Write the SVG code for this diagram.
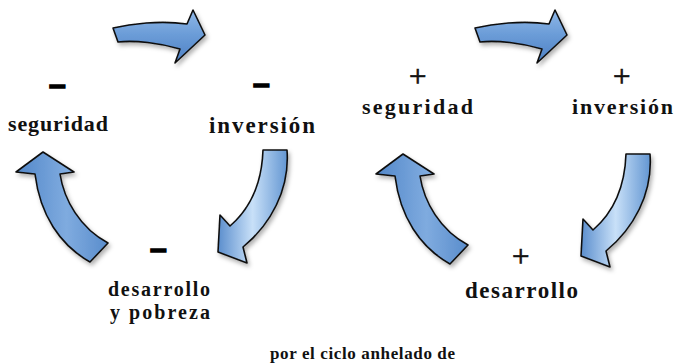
<svg xmlns="http://www.w3.org/2000/svg" width="679" height="364" viewBox="0 0 679 364">
<defs>
<linearGradient id="gV" x1="0" y1="0" x2="0" y2="1">
<stop offset="0" stop-color="#8fb8e8"/>
<stop offset="0.45" stop-color="#6c9dd8"/>
<stop offset="1" stop-color="#4d80c4"/>
</linearGradient>
<linearGradient id="gH" x1="0" y1="0" x2="1" y2="0">
<stop offset="0" stop-color="#5287c9"/>
<stop offset="0.55" stop-color="#7fabdf"/>
<stop offset="1" stop-color="#5a8dcc"/>
</linearGradient>
<linearGradient id="gG" x1="0" y1="0" x2="1" y2="0">
<stop offset="0" stop-color="#5b8ecd"/>
<stop offset="0.5" stop-color="#c8e0f8"/>
<stop offset="1" stop-color="#6396d2"/>
</linearGradient>
<filter id="sh" x="-20%" y="-20%" width="150%" height="150%">
<feDropShadow dx="2" dy="3" stdDeviation="2" flood-color="#000" flood-opacity="0.3"/>
</filter>
<path id="aTop" d="M113,28 C130,24 160,20 187,24 L193,10 L205,35 L175,63 L180,49 C160,43 135,40 118,42 Z"/>
<path id="aUp" d="M43,152 L74,172 L60,174 C64,200 80,228 108,243 L90,262 C60,245 40,215 35,174 L16,172 Z"/>
<path id="aDown" d="M263,150 L287,150 C290,190 270,225 243,247 L247,263 L218,252 L220,215 L230,226 C252,207 262,180 263,150 Z"/>
</defs>
<style>
.arr{stroke:#111;stroke-width:1.6;stroke-linejoin:round;filter:url(#sh)}
.lbl{font-family:"Liberation Serif","Times New Roman",serif;font-weight:bold;fill:#111}
.minus{font-family:"Liberation Sans",Arial,sans-serif;font-weight:bold;font-size:30px;fill:#000;stroke:#000;stroke-width:1.6}
.plus{font-family:"Liberation Serif","Times New Roman",serif;font-size:31px;fill:#111;stroke:#111;stroke-width:0.7}
</style>
<rect width="679" height="364" fill="#fff"/>
<g id="connectors">
<use href="#aTop" class="arr" fill="url(#gV)"/>
<use href="#aUp" class="arr" fill="url(#gH)"/>
<use href="#aDown" class="arr" fill="url(#gG)"/>
<use href="#aTop" class="arr" fill="url(#gV)" transform="translate(362,0)"/>
<use href="#aUp" class="arr" fill="url(#gH)" transform="translate(360,2)"/>
<use href="#aDown" class="arr" fill="url(#gG)" transform="translate(363,4)"/>
</g>
<g id="node-seguridad-neg">
<text class="minus" x="49" y="95">–</text>
<text class="lbl" x="8" y="131" font-size="22" textLength="100" lengthAdjust="spacing">seguridad</text>
</g>
<g id="node-inversion-neg">
<text class="minus" x="253" y="94">–</text>
<text class="lbl" x="209" y="133" font-size="23" textLength="106" lengthAdjust="spacing">inversión</text>
</g>
<g id="node-desarrollo-neg">
<text class="minus" x="150" y="259">–</text>
<text class="lbl" x="108" y="296" font-size="20" textLength="102" lengthAdjust="spacing">desarrollo</text>
<text class="lbl" x="110" y="319" font-size="20" textLength="100" lengthAdjust="spacing">y pobreza</text>
</g>
<g id="node-seguridad-pos">
<text class="plus" x="409" y="87">+</text>
<text class="lbl" x="362" y="114" font-size="22" textLength="111" lengthAdjust="spacing">seguridad</text>
</g>
<g id="node-inversion-pos">
<text class="plus" x="613" y="87">+</text>
<text class="lbl" x="572" y="114" font-size="22" textLength="101" lengthAdjust="spacing">inversión</text>
</g>
<g id="node-desarrollo-pos">
<text class="plus" x="512" y="267">+</text>
<text class="lbl" x="465" y="298" font-size="23" textLength="113" lengthAdjust="spacing">desarrollo</text>
</g>
<g id="caption">
<text class="lbl" x="270" y="359" font-size="17" textLength="185" lengthAdjust="spacing">por el ciclo anhelado de</text>
</g>
</svg>
